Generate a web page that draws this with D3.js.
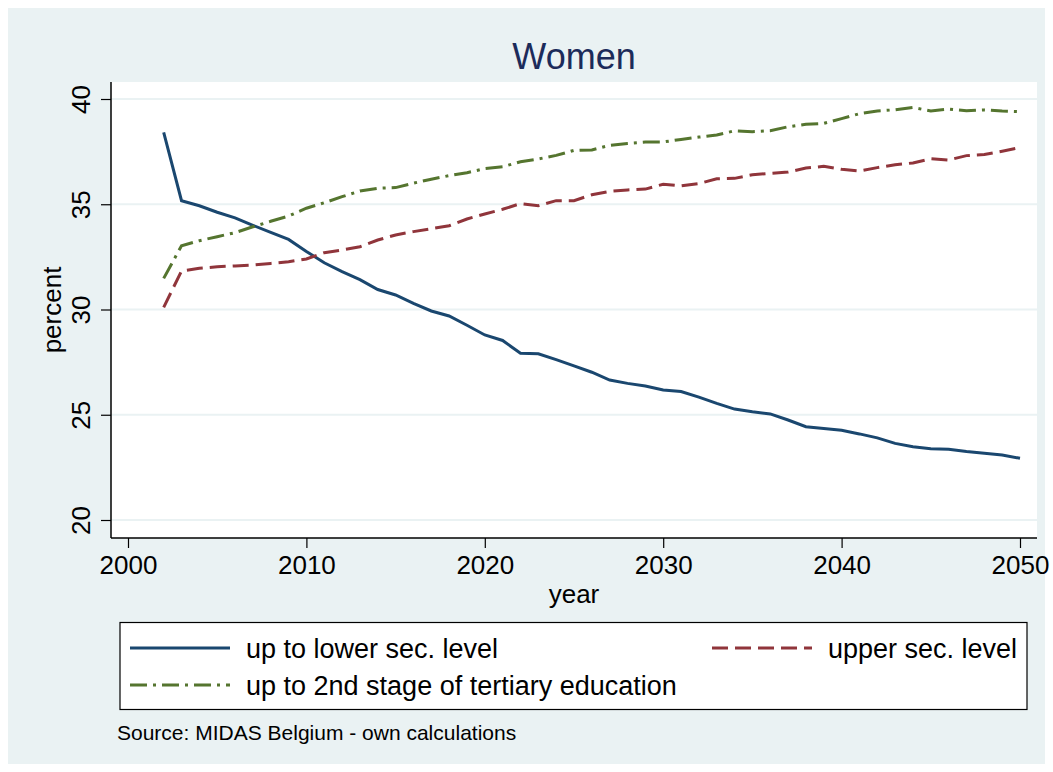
<!DOCTYPE html>
<html>
<head>
<meta charset="utf-8">
<script src="https://cdn.jsdelivr.net/npm/d3@7"></script>
<style>
	body { margin: 0; background: #fff; }
	svg text { font-family: "Liberation Sans", Arial, sans-serif; }
</style>
</head>
<body>
<div id="chart"></div>
<script>

	// Data
	var years = d3.range(2002, 2051);

	var lowerSec = [38.42, 35.17, 34.93, 34.62, 34.35, 34.0, 33.66, 33.33, 32.76, 32.22,
					31.8, 31.42, 30.95, 30.69, 30.29, 29.93, 29.69, 29.25, 28.79, 28.53,
					27.92, 27.9, 27.62, 27.32, 27.02, 26.65, 26.49, 26.37, 26.18, 26.1,
					25.84, 25.54, 25.27, 25.14, 25.04, 24.75, 24.43, 24.35, 24.26, 24.09,
					23.9, 23.64, 23.48, 23.39, 23.36, 23.25, 23.17, 23.09, 22.93];

	var upperSec = [30.1, 31.83, 31.96, 32.03, 32.07, 32.11, 32.19, 32.27, 32.4, 32.7,
					32.83, 32.98, 33.3, 33.54, 33.7, 33.84, 33.98, 34.3, 34.54, 34.76,
					35.03, 34.93, 35.17, 35.17, 35.45, 35.61, 35.68, 35.72, 35.95, 35.87,
					35.98, 36.21, 36.23, 36.4, 36.47, 36.53, 36.72, 36.8, 36.66, 36.58,
					36.74, 36.88, 36.96, 37.16, 37.1, 37.31, 37.36, 37.52, 37.69];

	var tertiary = [31.48, 33.03, 33.27, 33.46, 33.65, 33.93, 34.19, 34.44, 34.81, 35.07,
					35.36, 35.63, 35.76, 35.79, 36.0, 36.19, 36.36, 36.5, 36.69, 36.78,
					37.02, 37.15, 37.32, 37.56, 37.58, 37.8, 37.89, 37.96, 37.96, 38.08,
					38.19, 38.29, 38.49, 38.45, 38.49, 38.68, 38.8, 38.84, 39.07, 39.3,
					39.43, 39.49, 39.6, 39.43, 39.52, 39.44, 39.48, 39.43, 39.4];

	var xTicks = [2000, 2010, 2020, 2030, 2040, 2050];
	var yTicks = [20, 25, 30, 35, 40];

	var seriesNames = ["up to lower sec. level", "upper sec. level", "up to 2nd stage of tertiary education"];

	// Styling of each series (Stata s2color look)
	var styles = [
		{ "color": "#1a476f", "dash": null },
		{ "color": "#90353b", "dash": "16,7" },
		{ "color": "#55752f", "dash": "17,6,3,6" }
	];

	var series = [lowerSec, upperSec, tertiary];

	//////////////////////////////////////////////
	//											//
	//            Frame and scales				//
	//											//
	//////////////////////////////////////////////

	var width = 1053, height = 772;

	var svg = d3.select('#chart').append('svg')
					.attr('width', width)
					.attr('height', height);

	// Graph region background
	svg.append('rect')
		.attr('x', 8).attr('y', 8)
		.attr('width', 1037).attr('height', 756)
		.attr('fill', '#eaf2f3');

	// Plot region
	var plot = { "left": 111, "top": 82, "right": 1037, "bottom": 538 };

	svg.append('rect')
		.attr('x', plot.left).attr('y', plot.top)
		.attr('width', plot.right - plot.left)
		.attr('height', plot.bottom - plot.top)
		.attr('fill', '#fff');

	var x = d3.scaleLinear().domain([2000, 2050]).range([128, 1020]);
	var y = d3.scaleLinear().domain([20, 40]).range([520, 99]);

	// Horizontal grid lines
	svg.selectAll('line.grid')
		.data(yTicks)
		.enter().append('line')
		.attr('class', 'grid')
		.attr('x1', plot.left).attr('x2', plot.right)
		.attr('y1', function(d) { return y(d); })
		.attr('y2', function(d) { return y(d); })
		.attr('stroke', '#eaf2f3')
		.attr('stroke-width', 2);

	//////////////////////////////////////////////
	//											//
	//            Axes							//
	//											//
	//////////////////////////////////////////////

	var yAxis = d3.axisLeft(y).tickValues(yTicks).tickSize(10).tickSizeOuter(0).tickPadding(8);
	var gy = svg.append('g')
				.attr('transform', 'translate(' + plot.left + ',0)')
				.call(yAxis);
	gy.select('.domain').attr('d', 'M0,' + plot.top + 'V' + plot.bottom);

	// rotate the y tick labels like Stata does
	gy.selectAll('.tick text')
		.attr('transform', 'rotate(-90)')
		.attr('x', 0).attr('y', -21)
		.attr('dy', 0)
		.style('text-anchor', 'middle');

	var xAxis = d3.axisBottom(x).tickValues(xTicks).tickFormat(d3.format('d')).tickSize(10).tickSizeOuter(0).tickPadding(8);
	var gx = svg.append('g')
				.attr('transform', 'translate(0,' + plot.bottom + ')')
				.call(xAxis);
	gx.select('.domain').attr('d', 'M' + plot.left + ',0H' + plot.right);

	[gx, gy].forEach(function(g) {
		g.selectAll('.domain').attr('stroke', '#000').attr('stroke-width', 1.5);
		g.selectAll('.tick line').attr('stroke', '#000').attr('stroke-width', 1.2);
		g.selectAll('.tick text').style('font-size', '26px').attr('fill', '#000');
	});

	// Axis titles
	svg.append('text')
		.attr('transform', 'translate(61,' + ((plot.top + plot.bottom) / 2) + ') rotate(-90)')
		.style('text-anchor', 'middle')
		.style('font-size', '26px')
		.text('percent');

	svg.append('text')
		.attr('x', (plot.left + plot.right) / 2)
		.attr('y', 603)
		.style('text-anchor', 'middle')
		.style('font-size', '26px')
		.text('year');

	// Title
	svg.append('text')
		.attr('x', (plot.left + plot.right) / 2)
		.attr('y', 69)
		.style('text-anchor', 'middle')
		.style('font-size', '36px')
		.attr('fill', '#1c2b5a')
		.text('Women');

	//////////////////////////////////////////////
	//											//
	//            Lines							//
	//											//
	//////////////////////////////////////////////

	var line = d3.line()
				.x(function(d, i) { return x(years[i]); })
				.y(function(d) { return y(d); });

	series.forEach(function(values, i) {
		svg.append('path')
			.datum(values)
			.attr('d', line)
			.attr('fill', 'none')
			.attr('stroke', styles[i].color)
			.attr('stroke-width', 3)
			.attr('stroke-dasharray', styles[i].dash);
	});

	//////////////////////////////////////////////
	//											//
	//            Legend and note				//
	//											//
	//////////////////////////////////////////////

	svg.append('rect')
		.attr('x', 120).attr('y', 622.5)
		.attr('width', 907).attr('height', 87)
		.attr('fill', '#fff')
		.attr('stroke', '#000')
		.attr('stroke-width', 1.2);

	var legendPos = [
		{ "x": 130, "y": 648 },
		{ "x": 712, "y": 648 },
		{ "x": 130, "y": 685 }
	];

	seriesNames.forEach(function(name, i) {
		var p = legendPos[i];
		svg.append('line')
			.attr('x1', p.x).attr('x2', p.x + 100)
			.attr('y1', p.y).attr('y2', p.y)
			.attr('stroke', styles[i].color)
			.attr('stroke-width', 3)
			.attr('stroke-dasharray', styles[i].dash);
		svg.append('text')
			.attr('x', p.x + 116)
			.attr('y', p.y + 10)
			.style('font-size', '27px')
			.text(name);
	});

	svg.append('text')
		.attr('x', 117)
		.attr('y', 740)
		.style('font-size', '21px')
		.text('Source: MIDAS Belgium - own calculations');

</script>
</body>
</html>
